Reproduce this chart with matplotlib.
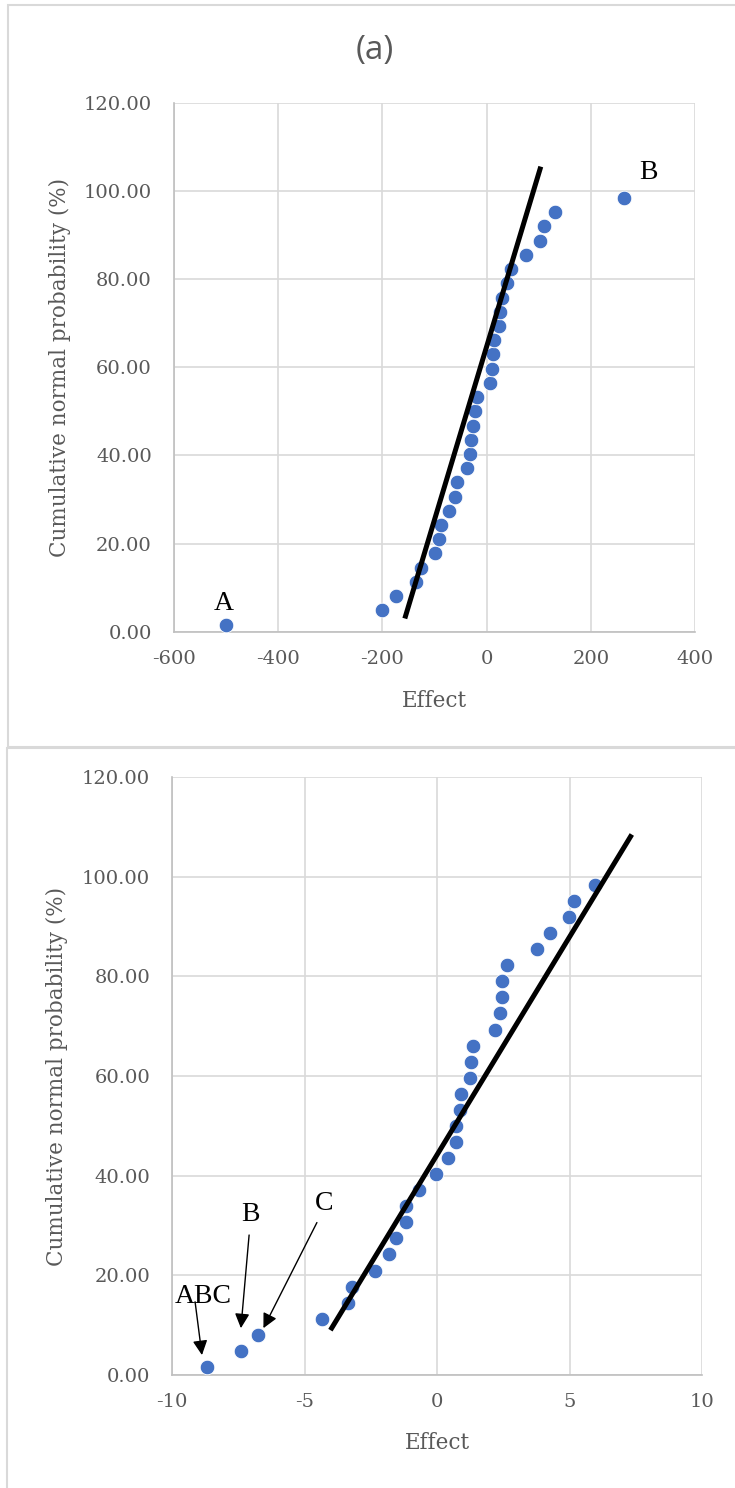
import matplotlib
matplotlib.use("Agg")
import matplotlib.pyplot as plt
from matplotlib.patches import Rectangle

# Cumulative normal probability (%) of the 31 ranked effects
prob = [1.61, 4.84, 8.06, 11.29, 14.52, 17.74, 20.97, 24.19, 27.42, 30.65,
        33.87, 37.10, 40.32, 43.55, 46.77, 50.00, 53.23, 56.45, 59.68, 62.90,
        66.13, 69.35, 72.58, 75.81, 79.03, 82.26, 85.48, 88.71, 91.94, 95.16,
        98.39]

# Panel (a): ranked effects
effects_a = [-500, -200, -174, -136, -125, -99, -92, -88, -73, -60, -56,
             -38, -32, -30, -27, -22, -19, 6, 11, 13, 15, 24, 26, 29, 40,
             46, 75, 102, 110, 132, 263]
line_a_x = [-157, 104]
line_a_y = [3.0, 105.5]

# Panel (b): ranked effects
effects_b = [-8.68, -7.42, -6.77, -4.34, -3.35, -3.23, -2.36, -1.80, -1.55,
             -1.19, -1.17, -0.67, -0.04, 0.42, 0.70, 0.73, 0.86, 0.91, 1.23,
             1.28, 1.37, 2.18, 2.39, 2.43, 2.46, 2.63, 3.77, 4.27, 4.98,
             5.15, 5.97]
line_b_x = [-4.03, 7.35]
line_b_y = [9.0, 108.5]

yticks = [0, 20, 40, 60, 80, 100, 120]
xticks_a = [-600, -400, -200, 0, 200, 400]
xticks_b = [-10, -5, 0, 5, 10]

W, H = 735, 1488
DOT = "#4472C4"
GREY_TXT = "#595959"
GRID = "#D9D9D9"
AXIS = "#BFBFBF"
SERIF = "DejaVu Serif"
LETTER = "Liberation Serif"

fig = plt.figure(figsize=(W / 100, H / 100), dpi=100)


def px_rect(l, t, r, b):
    return [l / W, 1 - b / H, (r - l) / W, (b - t) / H]


# panel frames
for (l, t, r, b) in [(8, 5, W + 20, 747), (7, 748, W + 20, H + 20)]:
    fig.add_artist(Rectangle((l / W, 1 - b / H), (r - l) / W, (b - t) / H,
                             transform=fig.transFigure, fill=False,
                             edgecolor=GRID, linewidth=1.5, clip_on=False))


def style(ax, xlim, xticks):
    ax.set_xlim(*xlim)
    ax.set_ylim(0, 120)
    ax.set_xticks(xticks)
    ax.set_yticks(yticks)
    ax.set_yticklabels([f"{v:.2f}" for v in yticks])
    ax.set_xticklabels([str(v) for v in xticks])
    ax.grid(True, color=GRID, linewidth=1.2, zorder=0)
    ax.set_axisbelow(True)
    for s in ["top", "right"]:
        ax.spines[s].set_visible(False)
    for s in ["left", "bottom"]:
        ax.spines[s].set_color(AXIS)
        ax.spines[s].set_linewidth(1.2)
    ax.tick_params(axis="both", length=0, labelsize=14, labelcolor=GREY_TXT)
    ax.tick_params(axis="y", pad=16)
    ax.tick_params(axis="x", pad=13)
    for lab in ax.get_xticklabels() + ax.get_yticklabels():
        lab.set_fontfamily(SERIF)


# ---- panel (a) ----
ax1 = fig.add_axes(px_rect(174, 102.7, 695, 631.7))
style(ax1, (-600, 400), xticks_a)
ax1.scatter(effects_a, prob, s=110, color=DOT, edgecolors="white",
            linewidths=0.6, zorder=3)
ax1.plot(line_a_x, line_a_y, color="black", linewidth=3.6,
         solid_capstyle="butt", zorder=4)
ax1.text(-504, 6.4, "A", family=LETTER, fontsize=20, ha="center",
         va="center", color="black")
ax1.text(310, 104.2, "B", family=LETTER, fontsize=20, ha="center",
         va="center", color="black")

fig.text(375 / W, 1 - 50 / H, "(a)", family="Open Sans", fontsize=24,
         color=GREY_TXT, ha="center", va="center")
fig.text(434.5 / W, 1 - 701 / H, "Effect", family=SERIF, fontsize=15.5,
         color=GREY_TXT, ha="center", va="center")
fig.text(60 / W, 1 - 367 / H, "Cumulative normal probability (%)",
         family=SERIF, fontsize=15.5, color=GREY_TXT, rotation=90,
         ha="center", va="center")

# ---- panel (b) ----
ax2 = fig.add_axes(px_rect(172.3, 777.2, 702, 1375))
style(ax2, (-10, 10), xticks_b)
ax2.scatter(effects_b, prob, s=110, color=DOT, edgecolors="white",
            linewidths=0.6, zorder=3)
ax2.plot(line_b_x, line_b_y, color="black", linewidth=3.6,
         solid_capstyle="butt", zorder=4)

arrow_kw = dict(arrowstyle="-|>", color="black", lw=1.0,
                mutation_scale=22, shrinkA=0, shrinkB=0)
ax2.text(-8.82, 15.7, "ABC", family=LETTER, fontsize=20, ha="center",
         va="center", color="black", zorder=5)
ax2.annotate("", xy=(-8.88, 4.0), xytext=(-9.14, 14.7),
             arrowprops=arrow_kw, zorder=5)
ax2.text(-7.06, 32.2, "B", family=LETTER, fontsize=20, ha="center",
         va="center", color="black", zorder=5)
ax2.annotate("", xy=(-7.41, 9.4), xytext=(-7.10, 28.1),
             arrowprops=arrow_kw, zorder=5)
ax2.text(-4.25, 34.5, "C", family=LETTER, fontsize=20, ha="center",
         va="center", color="black", zorder=5)
ax2.annotate("", xy=(-6.56, 9.4), xytext=(-4.54, 30.6),
             arrowprops=arrow_kw, zorder=5)

fig.text(437 / W, 1 - 1443 / H, "Effect", family=SERIF, fontsize=15.5,
         color=GREY_TXT, ha="center", va="center")
fig.text(57 / W, 1 - 1076 / H, "Cumulative normal probability (%)",
         family=SERIF, fontsize=15.5, color=GREY_TXT, rotation=90,
         ha="center", va="center")

fig.savefig("out.png", dpi=100, facecolor="white")
